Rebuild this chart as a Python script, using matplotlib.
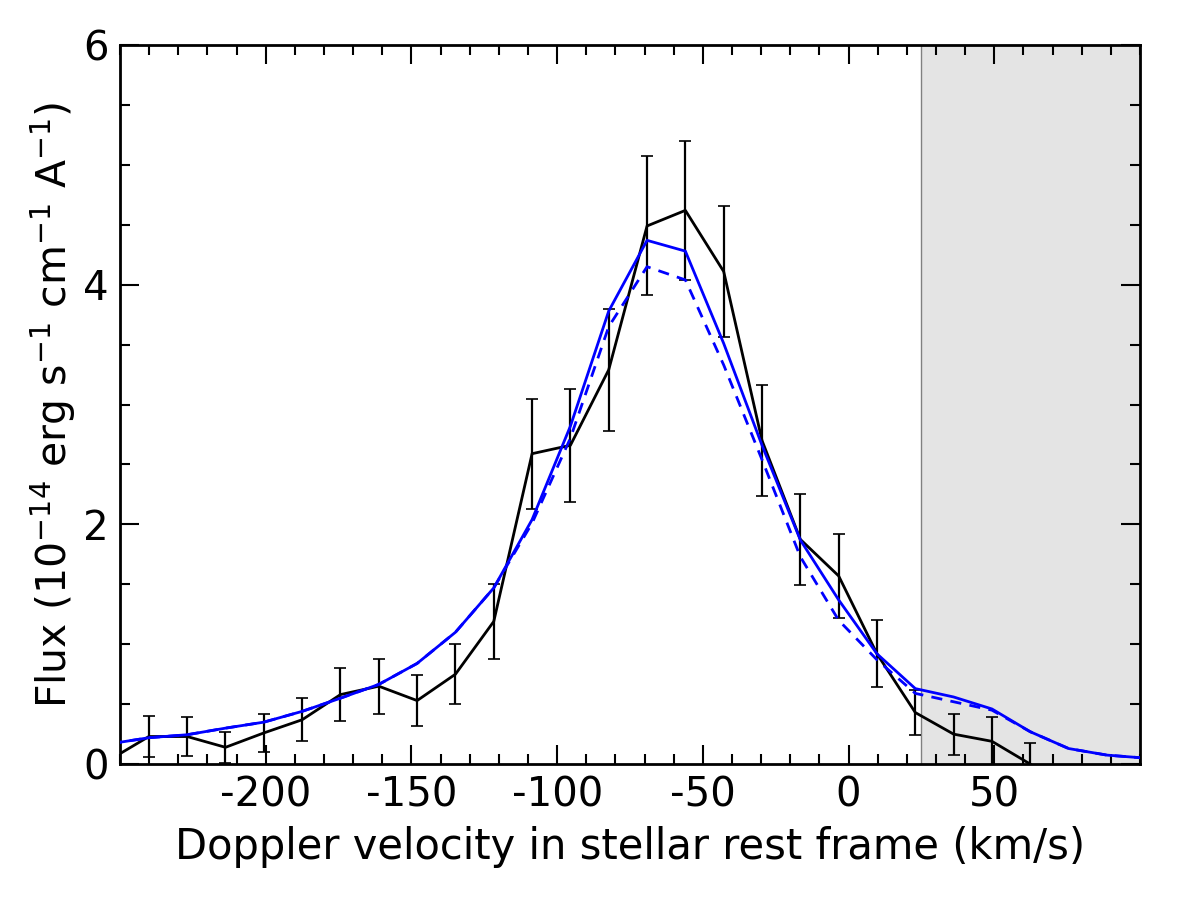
import numpy as np
import matplotlib
matplotlib.use("Agg")
import matplotlib.pyplot as plt
from matplotlib.ticker import MultipleLocator

plt.rcParams['axes.unicode_minus'] = False
plt.rcParams['font.family'] = ['DejaVu Sans']

# velocity grid (km/s), step ~13.15
vel_step = 13.15
vel0 = -240.1

# observed flux (1e-14 erg/s/cm2/A) and errors, grid index -1..23
obs_flux = [0.04, 0.23, 0.23, 0.14, 0.26, 0.37, 0.58, 0.65, 0.53, 0.75, 1.19,
            2.59, 2.66, 3.29, 4.49, 4.62, 4.11, 2.70, 1.875, 1.57, 0.92,
            0.43, 0.25, 0.19, 0.0]
obs_err = [0.15, 0.17, 0.16, 0.13, 0.16, 0.18, 0.22, 0.23, 0.21, 0.25, 0.31,
           0.46, 0.47, 0.51, 0.58, 0.58, 0.55, 0.46, 0.38, 0.35, 0.28,
           0.19, 0.17, 0.20, 0.18]

# model profiles, grid index -1..26
model_solid = [0.17, 0.22, 0.245, 0.30, 0.35, 0.44, 0.55, 0.665, 0.84, 1.10,
               1.47, 2.04, 2.82, 3.78, 4.37, 4.28, 3.51, 2.66, 1.87, 1.37,
               0.92, 0.63, 0.56, 0.46, 0.27, 0.13, 0.075, 0.05]
model_dash = [0.17, 0.22, 0.245, 0.30, 0.35, 0.44, 0.55, 0.665, 0.84, 1.10,
              1.47, 2.01, 2.72, 3.65, 4.15, 4.04, 3.33, 2.54, 1.73, 1.20,
              0.87, 0.59, 0.52, 0.45, 0.27, 0.13, 0.075, 0.05]

v_obs = vel0 + vel_step * np.arange(-1, len(obs_flux) - 1)
v_mod = vel0 + vel_step * np.arange(-1, len(model_solid) - 1)

fig = plt.figure(figsize=(12, 9), dpi=100)
ax = fig.add_axes([0.1, 0.151, 0.85, 0.799])

ax.axvspan(25, 100, color='#e4e4e4', zorder=0, lw=0)
ax.axvline(25, color='gray', lw=1.0, zorder=1)

ax.plot(v_mod, model_dash, color='blue', lw=2.0, ls=(0, (4, 3)), zorder=3)
ax.plot(v_mod, model_solid, color='blue', lw=2.0, zorder=3)
ax.errorbar(v_obs, obs_flux, yerr=obs_err, color='black', lw=2.0,
            elinewidth=1.6, capsize=4.5, capthick=1.2, zorder=2)

ax.set_xlim(-250, 100)
ax.set_ylim(0, 6)
ax.set_xticks([-200, -150, -100, -50, 0, 50])
ax.set_yticks([0, 2, 4, 6])
ax.xaxis.set_minor_locator(MultipleLocator(10))
ax.yaxis.set_minor_locator(MultipleLocator(0.5))
ax.tick_params(which='both', direction='in', top=True, right=True, width=1.5)
ax.tick_params(which='major', length=14, labelsize=29, pad=8)
ax.tick_params(which='minor', length=7)
for s in ax.spines.values():
    s.set_linewidth(2)

ax.set_xlabel('Doppler velocity in stellar rest frame (km/s)', fontsize=30, labelpad=8)
ax.set_ylabel('Flux (10$^{-14}$ erg s$^{-1}$ cm$^{-1}$ A$^{-1}$)', fontsize=29.5)

fig.savefig('out.png', dpi=100)
